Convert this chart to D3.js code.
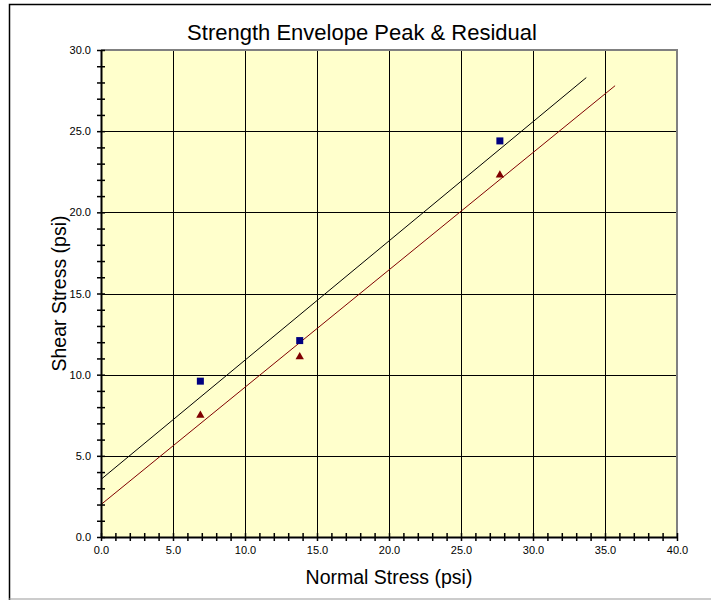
<!DOCTYPE html>
<html>
<head>
<meta charset="utf-8">
<script src="https://cdn.jsdelivr.net/npm/d3@7"></script>
<style>
  body { margin: 0; background: #fff; }
  text { font-family: "Liberation Sans", Arial, sans-serif; fill: #000; }
</style>
</head>
<body>
<script>
const w = 711;
const h = 600;

// data
const normalStress = [6.9, 13.8, 27.7];
const peakShear = [9.6, 12.1, 24.4];
const residualShear = [7.5, 11.1, 22.3];
// fitted envelopes (end points)
const peakLineX = [0, 33.7];
const peakLineY = [3.55, 28.3];
const residualLineX = [0, 35.7];
const residualLineY = [2.0, 27.8];
const xTicks = [0, 5, 10, 15, 20, 25, 30, 35, 40];
const yTicks = [0, 5, 10, 15, 20, 25, 30];

const plotL = 101, plotR = 677, plotT = 50, plotB = 537;

const svg = d3.select("body").append("svg")
  .attr("width", w)
  .attr("height", h);

// chart frame
svg.append("path")
  .attr("d", "M9.5,600 L9.5,4.5 L711,4.5")
  .attr("fill", "none")
  .attr("stroke", "#000")
  .attr("stroke-width", 1.5);
svg.append("line")
  .attr("x1", 9).attr("x2", 711).attr("y1", 599).attr("y2", 599)
  .attr("stroke", "#999");

const xScale = d3.scaleLinear().domain([0, 40]).range([plotL, plotR]);
const yScale = d3.scaleLinear().domain([0, 30]).range([plotB, plotT]);

// plot area
svg.append("rect")
  .attr("x", plotL).attr("y", plotT)
  .attr("width", plotR - plotL).attr("height", plotB - plotT)
  .attr("fill", "#FFFFCC");

// grid
svg.append("g").selectAll("line").data(xTicks.slice(1, -1)).join("line")
  .attr("x1", d => Math.round(xScale(d)) + 0.5).attr("x2", d => Math.round(xScale(d)) + 0.5)
  .attr("y1", plotT).attr("y2", plotB)
  .attr("stroke", "#000");
svg.append("g").selectAll("line").data(yTicks.slice(1, -1)).join("line")
  .attr("y1", d => Math.round(yScale(d)) + 0.5).attr("y2", d => Math.round(yScale(d)) + 0.5)
  .attr("x1", plotL).attr("x2", plotR)
  .attr("stroke", "#000");

// plot border top/right
svg.append("path")
  .attr("d", `M${plotL},${plotT} L${plotR},${plotT} L${plotR},${plotB}`)
  .attr("fill", "none")
  .attr("stroke", "#808080")
  .attr("stroke-width", 2);

// envelope lines
const line = d3.line().x(d => xScale(d[0])).y(d => yScale(d[1]));
svg.append("path")
  .datum(peakLineX.map((x, i) => [x, peakLineY[i]]))
  .attr("d", line)
  .attr("fill", "none")
  .attr("stroke", "#000")
  .attr("stroke-width", 1);
svg.append("path")
  .datum(residualLineX.map((x, i) => [x, residualLineY[i]]))
  .attr("d", line)
  .attr("fill", "none")
  .attr("stroke", "#800000")
  .attr("stroke-width", 1);

// axes
const xAxis = d3.axisBottom(xScale)
  .tickValues(d3.range(0, 40.01, 1))
  .tickFormat(d => (d % 5 === 0 ? d3.format(".1f")(d) : ""))
  .tickSizeOuter(0);
const gx = svg.append("g")
  .attr("transform", "translate(0," + plotB + ")")
  .call(xAxis);
gx.attr("font-size", null).attr("font-family", null);
gx.select(".domain").attr("stroke", "#000").attr("stroke-width", 2);
gx.selectAll(".tick line").attr("y1", -4).attr("y2", 4).attr("stroke", "#000").attr("stroke-width", 1.5);
gx.selectAll(".tick text").attr("y", 9).style("font-size", "11px").attr("fill", "#222");

const yAxis = d3.axisLeft(yScale)
  .tickValues(d3.range(0, 30.01, 1))
  .tickFormat(d => (d % 5 === 0 ? d3.format(".1f")(d) : ""))
  .tickSizeOuter(0);
const gy = svg.append("g")
  .attr("transform", "translate(" + plotL + ",0)")
  .call(yAxis);
gy.attr("font-size", null).attr("font-family", null);
gy.select(".domain").attr("stroke", "#000").attr("stroke-width", 2);
gy.selectAll(".tick line").attr("x1", -4).attr("x2", 4).attr("stroke", "#000").attr("stroke-width", 1.5);
gy.selectAll(".tick text").attr("x", -10).style("font-size", "11px").attr("fill", "#222");

// points
svg.append("g").selectAll("rect").data(normalStress).join("rect")
  .attr("x", (d, i) => xScale(d) - 3.5)
  .attr("y", (d, i) => yScale(peakShear[i]) - 3.5)
  .attr("width", 7).attr("height", 7)
  .attr("fill", "#000080");
const tri = d3.symbol().type(d3.symbolTriangle).size(30);
svg.append("g").selectAll("path").data(normalStress).join("path")
  .attr("d", tri)
  .attr("transform", (d, i) => "translate(" + xScale(d) + "," + yScale(residualShear[i]) + ")")
  .attr("fill", "#800000");

// titles
svg.append("text")
  .attr("x", 362)
  .attr("y", 40)
  .attr("text-anchor", "middle")
  .style("font-size", "22px")
  .text("Strength Envelope Peak & Residual");
svg.append("text")
  .attr("x", (plotL + plotR) / 2)
  .attr("y", 584)
  .attr("text-anchor", "middle")
  .style("font-size", "19.5px")
  .text("Normal Stress (psi)");
svg.append("text")
  .attr("transform", "translate(66," + (plotT + plotB) / 2 + ") rotate(-90)")
  .attr("text-anchor", "middle")
  .style("font-size", "19.5px")
  .text("Shear Stress (psi)");
</script>
</body>
</html>
